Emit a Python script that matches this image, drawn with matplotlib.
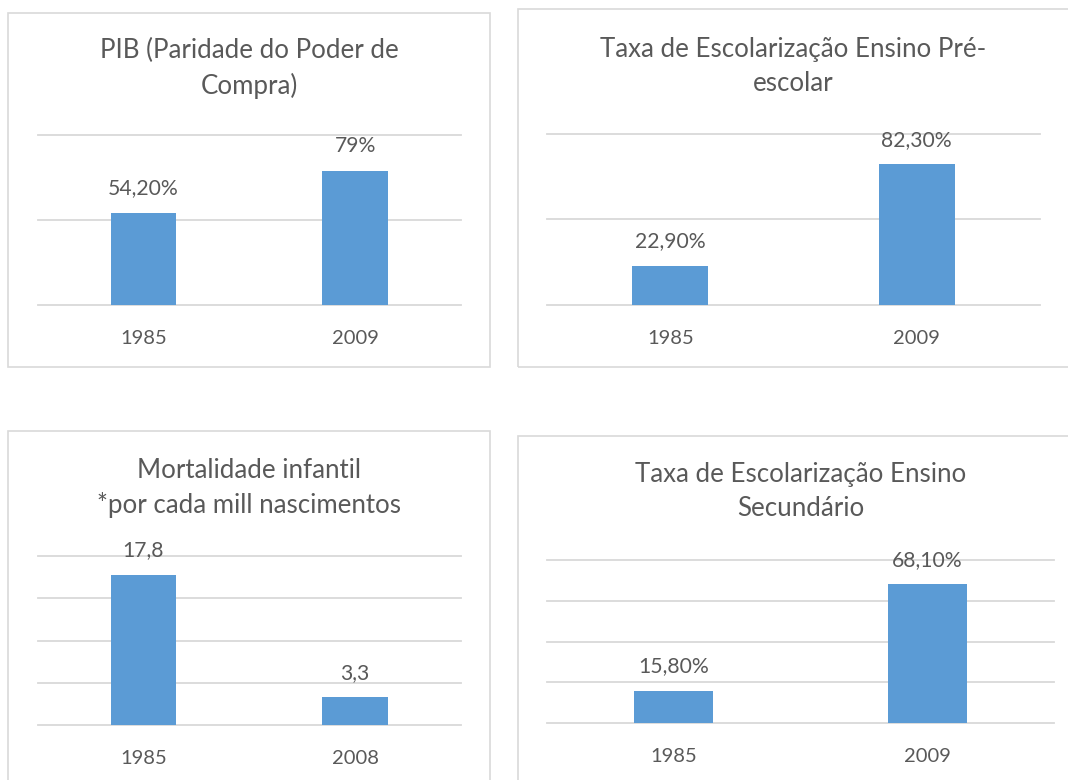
import matplotlib
matplotlib.use("Agg")
import matplotlib.pyplot as plt
from matplotlib.patches import Rectangle

plt.rcParams['font.family'] = ['Lato', 'DejaVu Sans']

# dados
titulos = ["PIB (Paridade do Poder de\nCompra)",
           "Taxa de Escolarização Ensino Pré-\nescolar",
           "Mortalidade infantil\n*por cada mill nascimentos",
           "Taxa de Escolarização Ensino\nSecundário"]
anos_pib = ["1985", "2009"]
pib = [54.2, 79]
pib_labels = ["54,20%", "79%"]
anos_pre = ["1985", "2009"]
pre_escolar = [22.9, 82.3]
pre_labels = ["22,90%", "82,30%"]
anos_mort = ["1985", "2008"]
mortalidade = [17.8, 3.3]
mort_labels = ["17,8", "3,3"]
anos_sec = ["1985", "2009"]
secundario = [15.8, 68.1]
sec_labels = ["15,80%", "68,10%"]
y_ticks = [[0, 50, 100], [0, 50, 100], [0, 5, 10, 15, 20], [0, 20, 40, 60, 80]]

W, H = 1068, 780
BAR = '#5B9BD5'
TXT = '#595959'
GRID = '#D9D9D9'

fig = plt.figure(figsize=(W / 100, H / 100), dpi=100)
fig.patch.set_facecolor('white')


def px_axes(x0, y0, x1, y1):
    # caixa em pixels (y para baixo) -> coordenadas da figura
    return fig.add_axes([x0 / W, 1 - y1 / H, (x1 - x0) / W, (y1 - y0) / H])


def moldura(x0, y0, x1, y1):
    fig.patches.append(Rectangle((x0 / W, 1 - y1 / H), (x1 - x0) / W, (y1 - y0) / H,
                                 transform=fig.transFigure, fill=False,
                                 edgecolor=GRID, linewidth=1.2))


paineis = [
    # moldura, eixos, dados
    ((7.5, 13.5, 490, 367), (37.5, 135, 461, 305), anos_pib, pib, pib_labels, y_ticks[0], titulos[0], 68.5),
    ((518, 8.5, 1080, 367), (547, 134, 1040, 305), anos_pre, pre_escolar, pre_labels, y_ticks[1], titulos[1], 66.5),
    ((7.5, 431, 490, 790), (37.5, 556, 461, 725), anos_mort, mortalidade, mort_labels, y_ticks[2], titulos[2], 488),
    ((518, 436, 1080, 790), (547, 560, 1054, 723), anos_sec, secundario, sec_labels, y_ticks[3], titulos[3], 491.5),
]

for box, axbox, cats, vals, labs, ticks, titulo, ty in paineis:
    moldura(*box)
    ax = px_axes(*axbox)
    ax.set_facecolor('none')
    for t in ticks:
        ax.axhline(t, color=GRID, linewidth=1.3, clip_on=False, zorder=0)
    ax.bar(range(len(vals)), vals, width=0.31, color=BAR, zorder=2)
    ax.set_xlim(-0.5, len(vals) - 0.5)
    ax.set_ylim(ticks[0], ticks[-1])
    for i, (v, l) in enumerate(zip(vals, labs)):
        ax.annotate(l, (i, v), xytext=(0, 17.5), textcoords='offset points',
                    ha='center', va='center', fontsize=15.2, color=TXT)
    ax.set_xticks(range(len(vals)))
    ax.set_xticklabels(cats, fontsize=14.5, color=TXT)
    ax.tick_params(axis='x', length=0, pad=18)
    ax.set_yticks([])
    for s in ax.spines.values():
        s.set_visible(False)
    cx = (axbox[0] + axbox[2]) / 2
    fig.text(cx / W, 1 - ty / H, titulo, ha='center', va='center',
             fontsize=18.6, color=TXT, linespacing=1.45)

fig.savefig('out.png', dpi=100, facecolor='white')
